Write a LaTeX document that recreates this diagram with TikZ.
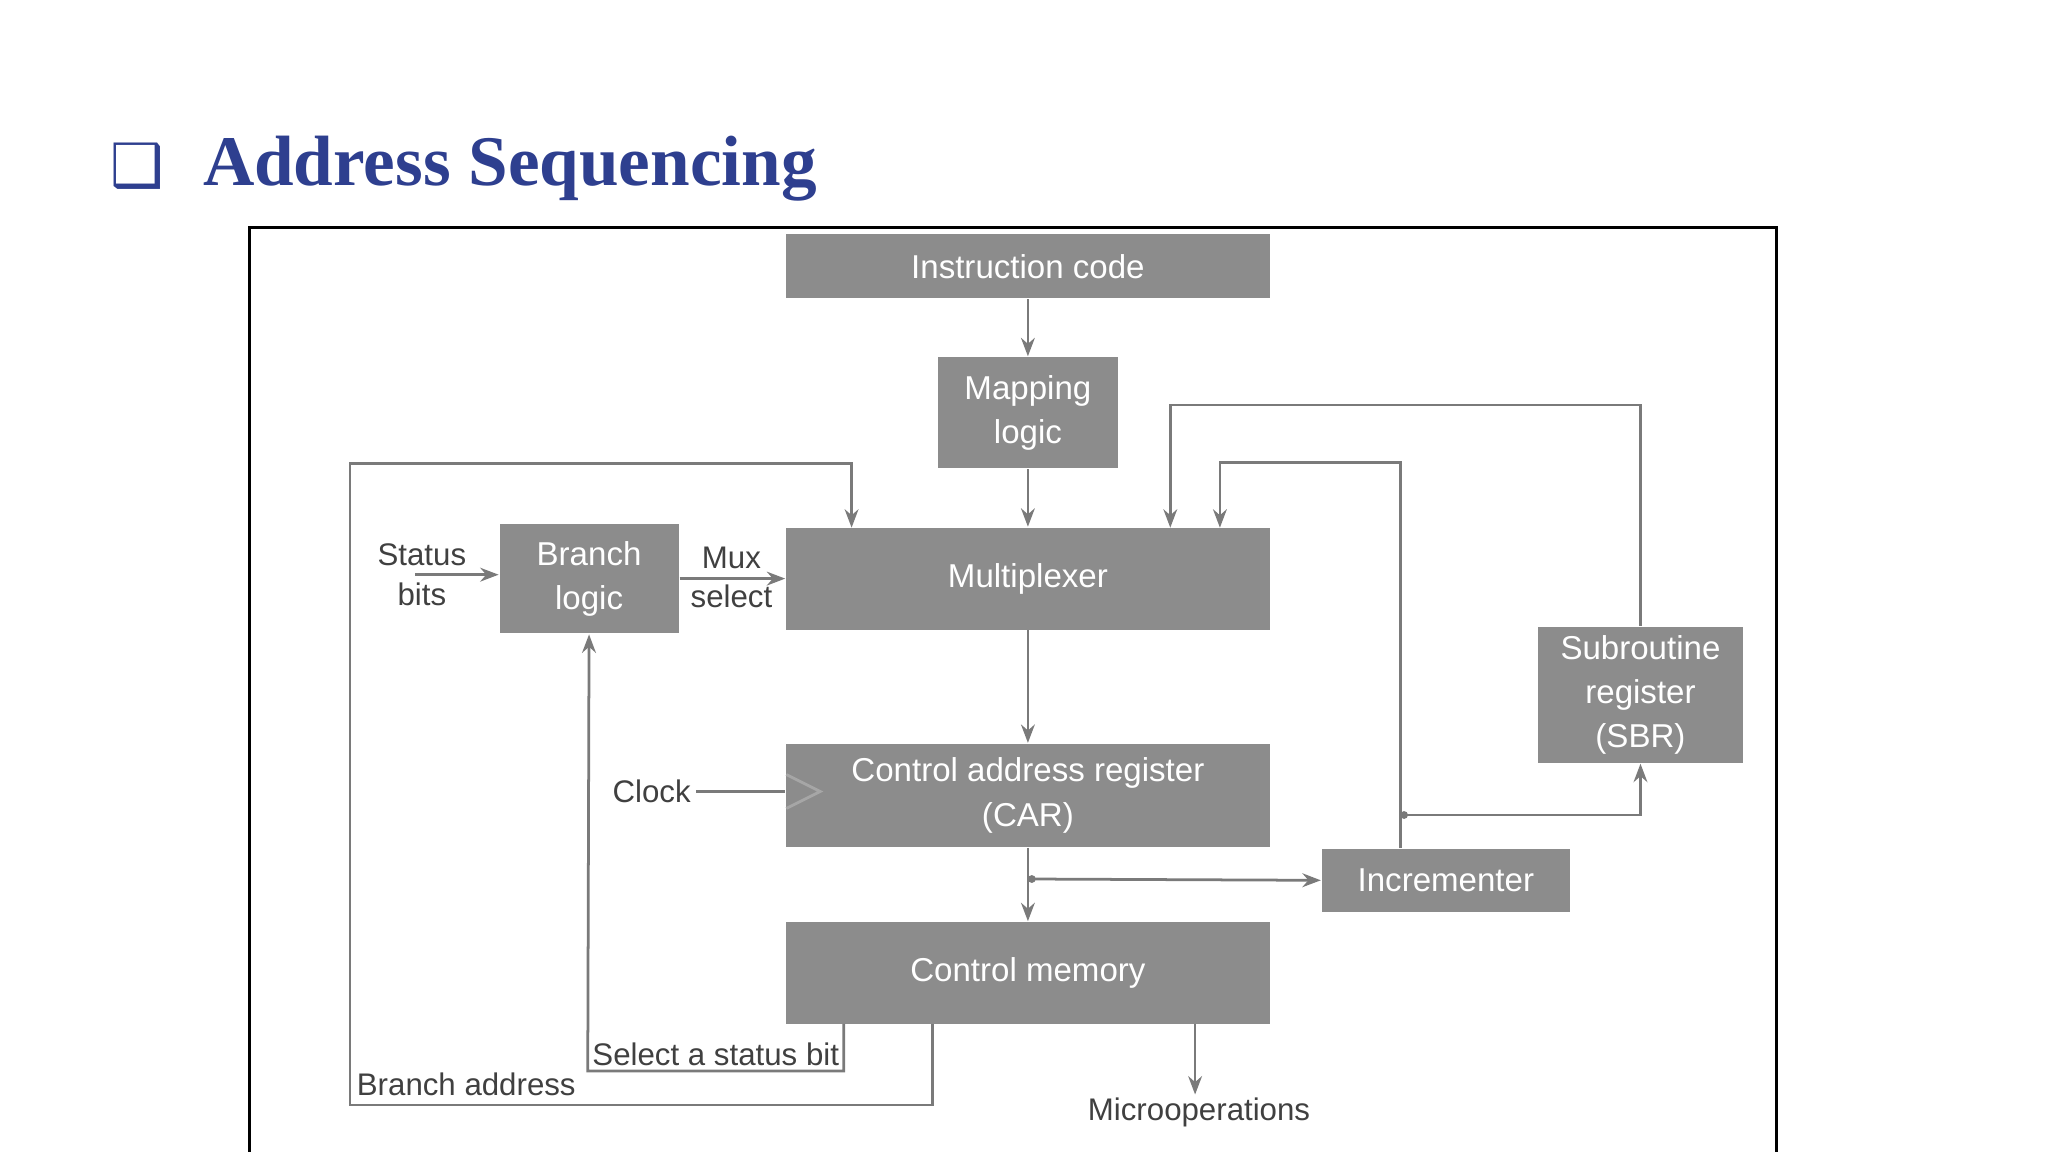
\documentclass[tikz,border=0pt]{standalone}
\usepackage{fontspec}
\setmainfont{Liberation Sans}
\newfontfamily\titlefont{Liberation Serif}
\newfontfamily\symfont{DejaVu Sans}
\usepackage{xcolor}
\usetikzlibrary{arrows.meta,positioning}
\definecolor{boxgray}{HTML}{8C8C8C}
\definecolor{linegray}{HTML}{7A7A7A}
\definecolor{titleblue}{HTML}{2E3F8F}
\tikzset{
  blk/.style={fill=boxgray, text=white, align=center, inner sep=0pt,
    font=\fontsize{7.2}{9.6}\selectfont},
  lbl/.style={text=black!75, align=center, inner sep=1pt,
    font=\fontsize{6.8}{8.6}\selectfont},
  wire/.style={draw=linegray, line width=0.6pt},
  arr/.style={wire, -{Stealth[length=4pt,width=3pt]}}
}
\begin{document}
\begin{tikzpicture}[x=0.01cm, y=-0.01cm]
    \useasboundingbox[fill=white] (0,0) rectangle (1568,882);
    % Title
    \node[text=titleblue, font=\symfont\fontsize{13}{15}\selectfont] (bullet) at (105,127) {❑};
    \node[text=titleblue, font=\titlefont\bfseries\fontsize{15.5}{18}\selectfont, anchor=west] (title) at (143,129) {Address Sequencing};
    % Frame
    \draw[black, line width=0.6pt] (191,900) -- (191,174) -- (1360,174) -- (1360,900);
    % Blocks
    \node[blk, minimum width=3.70cm, minimum height=0.49cm] (inst) at (787,204) {Instruction code};
    \node[blk, minimum width=1.38cm, minimum height=0.85cm] (map) at (787,316) {Mapping\\logic};
    \node[blk, minimum width=3.70cm, minimum height=0.78cm] (mux) at (787,443) {Multiplexer};
    \node[blk, minimum width=1.37cm, minimum height=0.84cm] (branch) at (451,443) {Branch\\logic};
    \node[blk, minimum width=3.70cm, minimum height=0.79cm] (car) at (787,609) {Control address register\\(CAR)};
    \node[blk, minimum width=1.90cm, minimum height=0.48cm] (inc) at (1107,674) {Incrementer};
    \node[blk, minimum width=3.70cm, minimum height=0.78cm] (cm) at (787,745) {Control memory};
    \node[blk, minimum width=1.57cm, minimum height=1.04cm] (sbr) at (1256,532) {Subroutine\\register\\(SBR)};
    % Labels
    \node[lbl] (status) at (323,440) {Status\\bits};
    \node[lbl] (muxsel) at (560,442) {Mux\\select};
    \node[lbl, anchor=east] (clock) at (533,606) {Clock};
    \node[lbl] (micro) at (918,852) {Microoperations};
    \node[lbl] (baddr) at (357,830) {Branch address};
    \node[lbl] (selbit) at (548,807) {Select a status bit};
    % Main path
    \draw[arr] (inst) -- (map);
    \draw[arr] (map) -- (mux);
    \draw[arr] (mux) -- (car);
    \draw[arr] (car) -- (cm);
    \coordinate (stin) at (318,440);
    \draw[arr] (stin) -- (stin -| branch.west);
    \draw[arr] (branch.east) -- (branch.east -| mux.west);
    % Clock
    \draw[wire] (clock) -- (car.west |- clock);
    \draw[draw=black!35, line width=0.6pt] (602,593) -- (628,606) -- (602,619);
    % Incrementer
    \coordinate (split) at (790,673);
    \fill[linegray] (split) circle (3);
    \draw[arr] (split) -- (inc.west);
    \coordinate (incup) at (1072,354);
    \draw[arr] (inc.north -| incup) -- (incup) -| (934,404);
    \coordinate (tap) at (1075,624);
    \fill[linegray] (tap) circle (3);
    \draw[arr] (tap) -| (sbr.south);
    % SBR return
    \draw[arr] (sbr.north) |- (896,310) -- (896,404);
    % Branch address
    \coordinate (cmba) at (714,784);
    \draw[arr] (cmba) -- (714,846) -| (268,355) -| (652,404);
    % Select a status bit
    \draw[arr] (646,784) |- (450,820) -- (branch.south);
    % Microoperations
    \coordinate (mout) at (915,784);
    \draw[arr] (mout) -- (915,838);
\end{tikzpicture}
\end{document}
